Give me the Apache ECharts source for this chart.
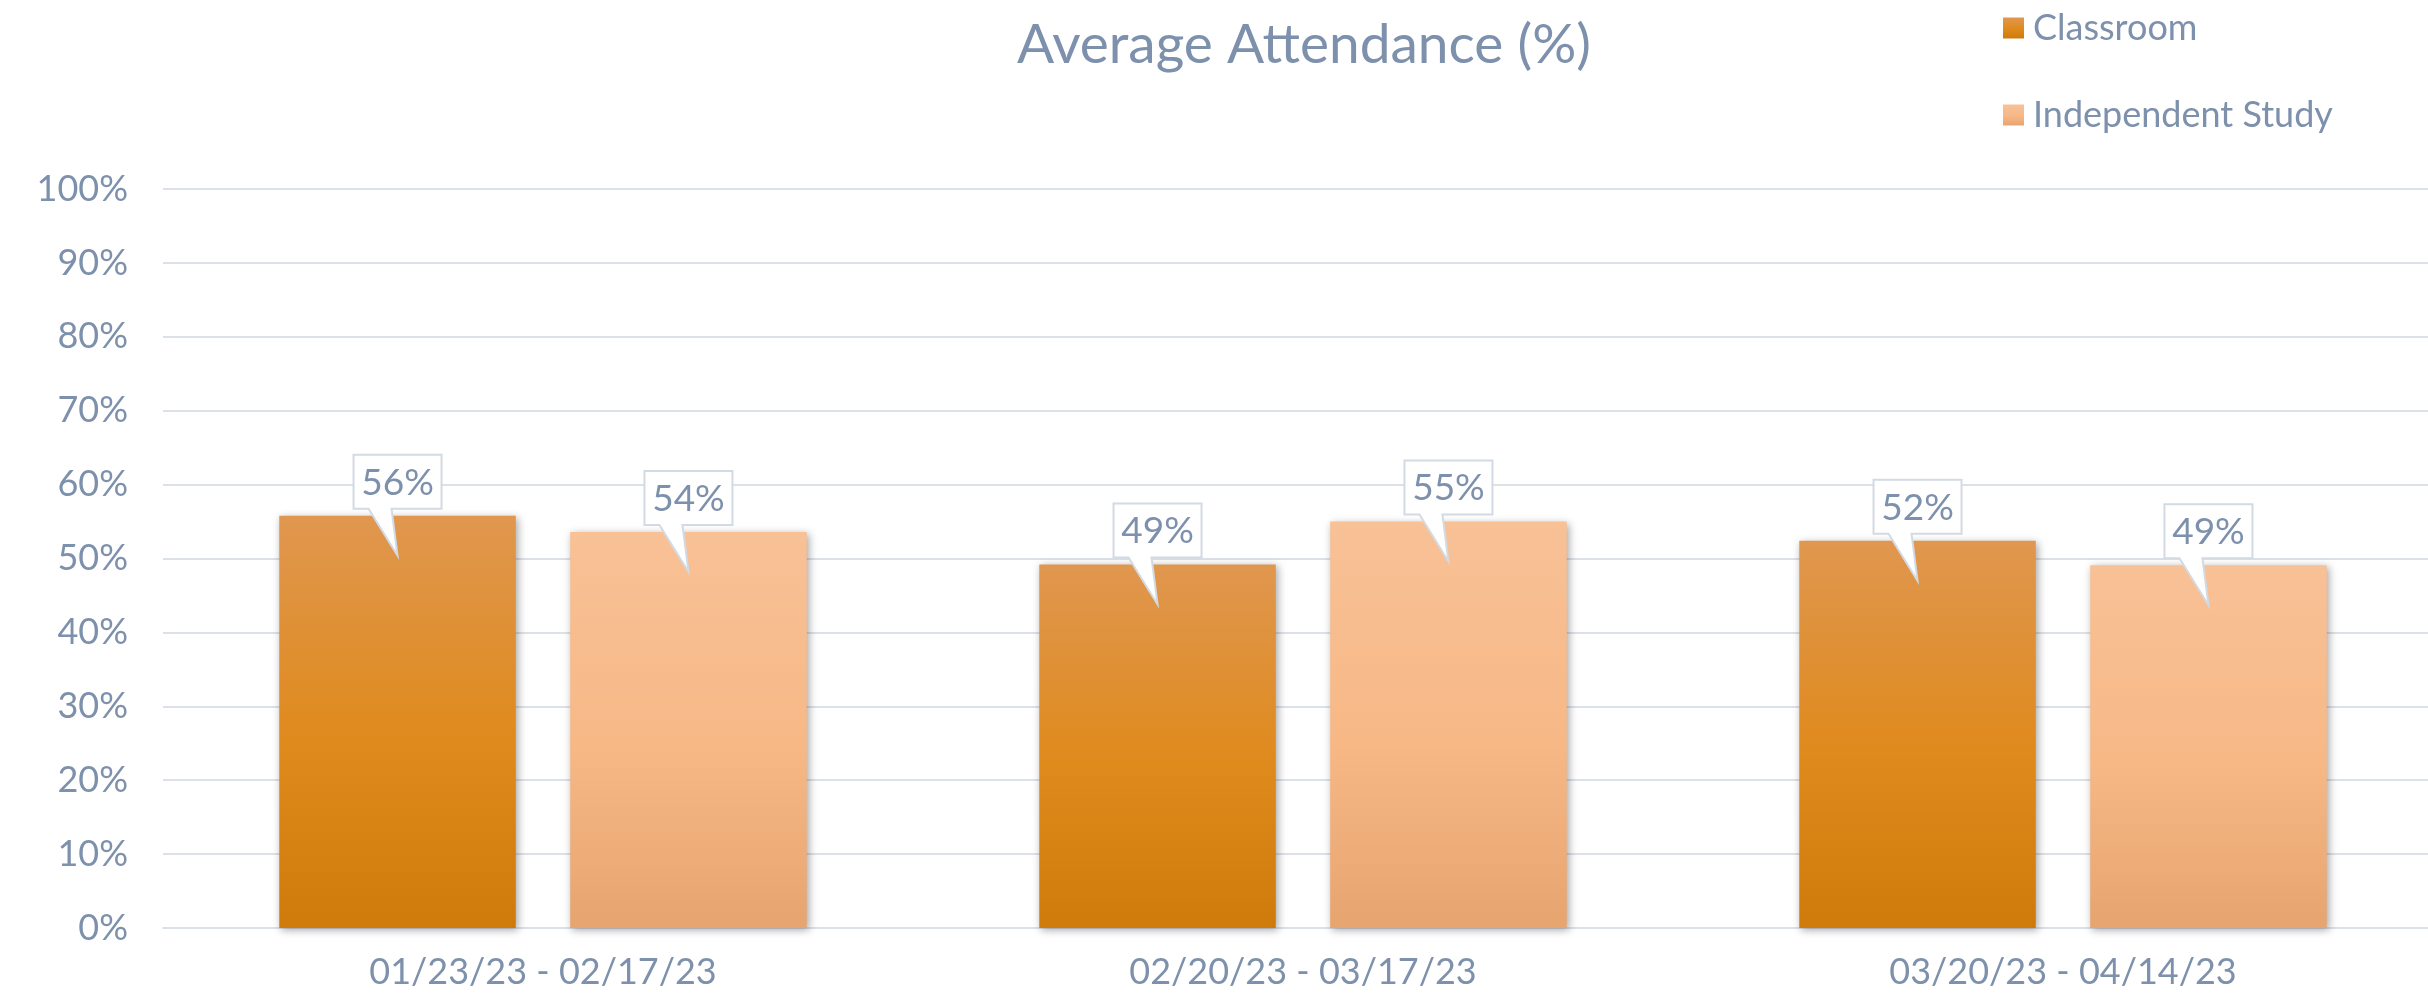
<!DOCTYPE html>
<html>
<head>
<meta charset="utf-8">
<script src="https://cdn.jsdelivr.net/npm/echarts@6/dist/echarts.min.js"></script>
<style>
  html, body { margin: 0; padding: 0; background: #fff; }
  #main { width: 2428px; height: 1002px; }
</style>
</head>
<body>
<div id="main"></div>
<script>
// chart data
const periods = ['01/23/23 - 02/17/23', '02/20/23 - 03/17/23', '03/20/23 - 04/14/23'];
const classroom = [55.8, 49.2, 52.4];
const independentStudy = [53.6, 55.0, 49.1];
const yTicks = [0, 10, 20, 30, 40, 50, 60, 70, 80, 90, 100];

const textColor = '#7D90AC';
const font = 'Lato';
const BAR_GAP = 0.23;
const CAT_GAP = 0.306;

function grad(top, mid, bottom) {
    return new echarts.graphic.LinearGradient(0, 0, 0, 1, [
        { offset: 0, color: top },
        { offset: 0.55, color: mid },
        { offset: 1, color: bottom }
    ]);
}

// callout label drawn over each bar
function callout(seriesPos) {
    return function (params, api) {
        const cat = api.value(0);
        const val = api.value(1);
        const pt = api.coord([cat, val]);
        const band = api.size([1, 0])[0];
        const group = band * (1 - CAT_GAP);
        const bw = group / (2 + BAR_GAP);
        const cx = pt[0] + (seriesPos === 0 ? -group / 2 + bw / 2 : group / 2 - bw / 2);
        const top = pt[1];
        const bottom = top - 7;
        const boxTop = bottom - 54;
        const w = 44;
        return {
            type: 'group',
            children: [
                {
                    type: 'polygon',
                    shape: {
                        points: [
                            [cx - w, boxTop], [cx + w, boxTop], [cx + w, bottom],
                            [cx - 6, bottom], [cx, top + 40], [cx - 29, bottom], [cx - w, bottom]
                        ]
                    },
                    style: { fill: '#fff', stroke: '#D2DAE4', lineWidth: 2 }
                },
                {
                    type: 'text',
                    x: cx,
                    y: boxTop + 28,
                    style: {
                        text: Math.round(val) + '%',
                        fill: textColor,
                        font: '37px ' + font,
                        align: 'center',
                        verticalAlign: 'middle'
                    }
                }
            ]
        };
    };
}

const chart = echarts.init(document.getElementById('main'));
chart.setOption({
    backgroundColor: '#fff',
    animation: false,
    title: {
        text: 'Average Attendance (%)',
        left: 1299,
        textAlign: 'center',
        top: 13,
        textStyle: { fontFamily: font, fontSize: 55, fontWeight: 'normal', color: textColor }
    },
    legend: {
        orient: 'vertical',
        left: 1998,
        top: 3,
        icon: 'rect',
        itemWidth: 21,
        itemHeight: 21,
        itemGap: 47,
        data: ['Classroom', 'Independent Study'],
        textStyle: { fontFamily: font, fontSize: 36, color: textColor, lineHeight: 40, padding: [0, 0, 0, 4] }
    },
    grid: { left: 163, width: 2280, top: 189, height: 739, containLabel: false, outerBoundsMode: 'none' },
    xAxis: {
        type: 'category',
        data: periods,
        axisTick: { show: false },
        axisLine: { show: true, lineStyle: { color: '#DCE1E8', width: 2 } },
        axisLabel: { fontFamily: font, fontSize: 36, color: textColor, margin: 26 }
    },
    yAxis: {
        type: 'value',
        min: yTicks[0],
        max: yTicks[yTicks.length - 1],
        interval: 10,
        axisLine: { show: false },
        axisTick: { show: false },
        splitLine: { lineStyle: { color: '#DCE1E8', width: 2 } },
        axisLabel: { fontFamily: font, fontSize: 36, color: textColor, margin: 35, formatter: '{value}%' }
    },
    series: [
        {
            name: 'Classroom',
            type: 'bar',
            data: classroom,
            barGap: (BAR_GAP * 100) + '%',
            barCategoryGap: (CAT_GAP * 100) + '%',
            itemStyle: {
                color: grad('#E0974F', '#DF8A1C', '#CF7B0C'),
                shadowBlur: 8,
                shadowColor: 'rgba(0,0,0,0.35)',
                shadowOffsetX: 2,
                shadowOffsetY: 2
            }
        },
        {
            name: 'Independent Study',
            type: 'bar',
            data: independentStudy,
            barGap: (BAR_GAP * 100) + '%',
            barCategoryGap: (CAT_GAP * 100) + '%',
            itemStyle: {
                color: grad('#F8C196', '#F7B886', '#E6A46F'),
                shadowBlur: 8,
                shadowColor: 'rgba(0,0,0,0.35)',
                shadowOffsetX: 2,
                shadowOffsetY: 2
            }
        },
        {
            type: 'custom',
            renderItem: callout(0),
            data: classroom.map((v, i) => [i, v]),
            z: 10,
            silent: true
        },
        {
            type: 'custom',
            renderItem: callout(1),
            data: independentStudy.map((v, i) => [i, v]),
            z: 10,
            silent: true
        }
    ]
});
</script>
</body>
</html>
